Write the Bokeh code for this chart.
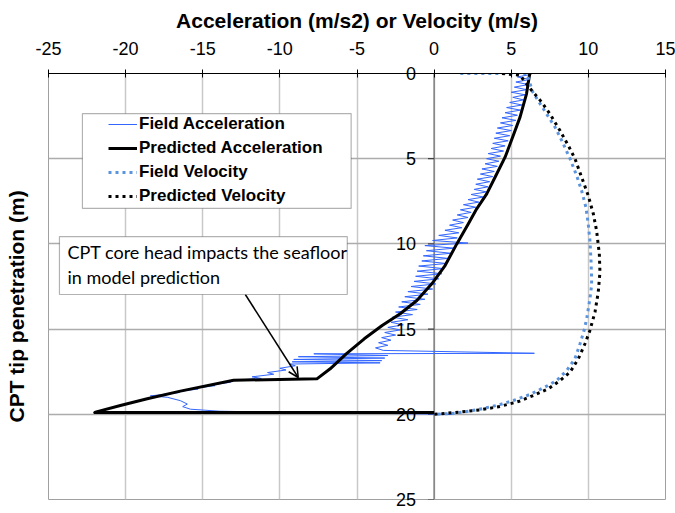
from math import pi

from bokeh.core.properties import value
from bokeh.embed import file_html
from bokeh.models import (Arrow, BoxAnnotation, FixedTicker, Grid, Label,
                          Legend, LegendItem, OpenHead, Range1d,
                          ColumnDataSource, Span)
from bokeh.plotting import figure
from bokeh.resources import INLINE

# ---- data ---------------------------------------------------------------
x_ticks = [-25, -20, -15, -10, -5, 0, 5, 10, 15]
y_ticks = [0, 5, 10, 15, 20, 25]

# measured acceleration (m/s2) against tip penetration (m)
field_acc_depth = [
    0.0, 0.0, 0.0,
    0.05, 0.20, 0.35, 0.50, 0.65, 0.80, 0.95, 1.10, 1.25, 1.40,
    1.55, 1.70, 1.85, 2.00, 2.15, 2.30, 2.45, 2.60, 2.75, 2.90,
    3.05, 3.20, 3.35, 3.50, 3.65, 3.80, 3.95, 4.10, 4.25, 4.40,
    4.55, 4.70, 4.85, 5.00, 5.15, 5.30, 5.45, 5.60, 5.75, 5.90,
    6.05, 6.20, 6.35, 6.50, 6.65, 6.80, 6.95, 7.10, 7.25, 7.40,
    7.55, 7.70, 7.85, 8.00, 8.15, 8.30, 8.45, 8.60, 8.75, 8.90,
    9.05, 9.20, 9.35, 9.50, 9.65, 9.80, 9.95, 10.10, 10.25, 10.40,
    10.55, 10.70, 10.85, 11.00, 11.15, 11.30, 11.45, 11.60, 11.75, 11.90,
    12.05, 12.20, 12.35, 12.50, 12.65, 12.80, 12.95, 13.10, 13.25, 13.40,
    13.55, 13.70, 13.85, 14.00, 14.15, 14.30, 14.45, 14.60, 14.75, 14.90,
    15.05, 15.20, 15.35, 15.50, 15.65, 15.80, 15.95, 16.10, 16.25,
    16.42, 16.45, 16.55, 16.62, 16.70, 16.78, 16.85, 16.92, 16.98, 17.05,
    17.15, 17.30, 17.40, 17.55, 17.65, 17.80, 17.90, 17.98, 18.08, 18.12,
    18.28, 18.32, 18.48, 18.52, 18.68, 18.72, 18.84, 18.92, 19.00, 19.20,
    19.40, 19.55, 19.70, 19.82, 19.88, 19.93, 20.00,
]
field_acc = [
    0.0, 11.3, 6.2,
    6.3, 5.4, 6.2, 5.3, 6.1, 5.2, 6.0, 5.0, 5.9, 5.1,
    5.8, 4.9, 5.7, 4.7, 5.6, 4.6, 5.4, 4.4, 5.3, 4.3,
    5.1, 4.1, 5.0, 4.0, 4.9, 3.9, 4.8, 3.8, 4.6, 3.7,
    4.5, 3.5, 4.3, 3.4, 4.2, 3.3, 4.1, 3.1, 3.9, 3.0,
    3.8, 2.8, 3.6, 2.7, 3.5, 2.6, 3.4, 2.4, 3.2, 2.2,
    2.9, 1.9, 2.7, 1.7, 2.4, 1.5, 2.2, 1.2, 1.9, 1.0,
    1.8, 0.7, 1.6, 0.3, 1.5, -0.1, 2.2, -0.6, 1.3, -0.5,
    1.1, -0.7, 0.9, -0.8, 0.8, -1.0, 0.6, -1.1, 0.5, -1.2,
    0.3, -1.3, 0.1, -1.5, -0.1, -1.7, -0.4, -1.9, -0.6, -2.1,
    -0.9, -2.3, -1.1, -2.5, -1.4, -2.7, -1.7, -2.8, -2.0, -3.0,
    -2.2, -3.2, -2.5, -3.4, -2.8, -3.6, -3.0, -3.8, -3.3,
    6.5, -7.8, -3.0, -8.8, -3.2, -9.1, -3.4, -9.2, -3.5, -9.4,
    -9.0, -10.0, -9.6, -10.8, -10.4, -11.8, -11.2, -12.6, -13.5, -13.2,
    -14.5, -14.2, -15.6, -15.3, -16.8, -16.5, -17.6, -18.4, -17.3, -16.45,
    -16.0, -16.3, -15.8, -13.9, -10.0, -5.0, 1.2,
]

# predicted acceleration (m/s2)
pred_acc_depth = [0.0, 1.19, 2.56, 3.64, 4.91, 6.09, 7.06, 7.94, 8.82, 10.0,
                  11.27, 12.34, 13.32, 14.1, 14.79, 15.57, 16.45, 17.33, 17.92,
                  18.0, 18.64, 19.09, 19.48, 19.87, 19.9, 19.9]
pred_acc = [6.2, 5.99, 5.57, 5.13, 4.6, 3.95, 3.41, 2.76, 2.22, 1.47,
            0.71, -0.15, -1.12, -2.2, -3.37, -4.53, -5.7, -6.74, -7.6,
            -13.0, -16.45, -18.6, -20.34, -21.96, -22.0, 0.0]

# measured velocity (m/s)
field_vel_depth = [0.0, 0.0, 1.1, 2.07, 3.15, 3.93, 5.0, 5.99, 6.87, 7.85, 8.82,
                   9.8, 10.97, 12.0, 12.44, 13.22, 14.4, 15.08, 15.86, 16.74,
                   17.43, 18.02, 18.4, 18.84, 19.19, 19.48, 19.74, 19.93, 20.0]
field_vel = [1.7, 6.0, 6.4, 7.08, 7.84, 8.27, 8.81, 9.24, 9.56, 9.84, 9.99,
             10.1, 10.17, 10.21, 10.21, 10.1, 9.89, 9.72, 9.46, 9.13,
             8.6, 7.94, 7.19, 6.2, 5.14, 4.06, 2.76, 1.47, 0.17]

# predicted velocity (m/s)
pred_vel_depth = [0.0, 0.1, 0.5, 1.0, 1.68, 2.37, 3.35, 4.23, 5.0, 6.08, 7.16,
                  8.23, 9.21, 10.58, 11.66, 12.83, 14.0, 15.08, 15.86, 16.74,
                  17.53, 18.02, 18.5, 18.9, 19.25, 19.54, 19.74, 19.87, 19.97, 20.0]
pred_vel = [4.4, 5.57, 5.9, 6.33, 6.97, 7.51, 8.16, 8.7, 9.13, 9.56, 9.99,
            10.32, 10.53, 10.71, 10.75, 10.64, 10.43, 10.1, 9.78, 9.35,
            8.81, 8.16, 7.4, 6.43, 5.46, 4.27, 2.98, 1.69, 0.4, 0.0]

# ---- figure -------------------------------------------------------------
FONT = "Liberation Sans"

p = figure(width=675, height=513,
           x_range=Range1d(-25, 15), y_range=Range1d(25, 0),
           x_axis_location="above", y_axis_location=None,
           output_backend="svg", toolbar_location=None,
           min_border_left=48, min_border_right=10,
           min_border_top=73, min_border_bottom=14)
p.background_fill_color = "white"
p.border_fill_color = "white"
p.outline_line_color = "#a0a0a0"
p.outline_line_width = 1

for g in p.grid:
    g.visible = False

vgrid = Grid(dimension=0, ticker=FixedTicker(ticks=x_ticks[1:-1]),
             grid_line_color="#c8c8c8", grid_line_width=1.5)
hgrid = Grid(dimension=1, ticker=FixedTicker(ticks=y_ticks[1:-1]),
             grid_line_color="#acacac", grid_line_width=1.5)
p.add_layout(vgrid)
p.add_layout(hgrid)

xa = p.xaxis[0]
xa.ticker = FixedTicker(ticks=x_ticks)
xa.major_label_overrides = {t: str(t) for t in x_ticks}
xa.minor_tick_line_color = None
xa.major_tick_in = 4
xa.major_tick_out = 4
xa.major_tick_line_color = "black"
xa.axis_line_color = "black"
xa.axis_line_width = 1.2
xa.major_label_text_font = FONT
xa.major_label_text_font_size = "18px"
xa.major_label_text_color = "black"
xa.major_label_standoff = 15
xa.axis_label = "Acceleration (m/s2) or Velocity (m/s)"
xa.axis_label_text_font = FONT
xa.axis_label_text_font_size = "21px"
xa.axis_label_text_font_style = "bold"
xa.axis_label_text_color = "black"
xa.axis_label_standoff = 7

# vertical axis drawn through x = 0
p.add_layout(Span(location=0, dimension="height", line_color="#7f7f7f",
                  line_width=1.5, level="underlay"))
tick_src = ColumnDataSource(dict(y=y_ticks, x=[0] * len(y_ticks),
                                 x0=[-0.4] * len(y_ticks),
                                 lab=[str(t) for t in y_ticks]))
p.segment(x0="x0", y0="y", x1="x", y1="y", source=tick_src,
          line_color="#404040", line_width=1.2)
p.text(x="x", y="y", text="lab", source=tick_src, x_offset=-18,
       text_align="right", text_baseline="middle",
       text_font=value(FONT), text_font_size="18px", text_color="black",
       level="overlay")

p.text(x=[-27.1], y=[13.67], text=["CPT tip penetration (m)"],
       angle=pi / 2, text_align="center", text_baseline="middle",
       text_font=value(FONT), text_font_size="21px",
       text_font_style="bold", text_color="black", level="overlay")

# ---- series -------------------------------------------------------------
r_fa = p.line(field_acc, field_acc_depth, line_color="#3366ff", line_width=1)
r_pa = p.line(pred_acc, pred_acc_depth, line_color="black", line_width=3,
              line_join="round")
r_fv = p.line(field_vel, field_vel_depth, line_color="#5b93dd", line_width=3,
              line_dash="3 4")
r_pv = p.line(pred_vel, pred_vel_depth, line_color="black", line_width=3,
              line_dash="3 4")

# ---- legend -------------------------------------------------------------
p.add_layout(BoxAnnotation(left=-22.8, right=-5.38, top=2.35, bottom=7.92,
                           fill_color="white", fill_alpha=1,
                           line_color="black", line_width=1.2))
legend = Legend(items=[
    LegendItem(label="Field Acceleration", renderers=[r_fa]),
    LegendItem(label="Predicted Acceleration", renderers=[r_pa]),
    LegendItem(label="Field Velocity", renderers=[r_fv]),
    LegendItem(label="Predicted Velocity", renderers=[r_pv]),
], location=(60, 293), padding=0, spacing=4, margin=0,
    glyph_width=29, glyph_height=20, label_height=20, label_standoff=2,
    label_text_font=FONT, label_text_font_size="17px",
    label_text_font_style="bold", label_text_color="black",
    border_line_alpha=0, background_fill_alpha=0)
p.add_layout(legend)

# ---- callout ------------------------------------------------------------
p.add_layout(Arrow(end=OpenHead(size=10, line_width=1.5, line_color="black"),
                   x_start=-12.24, y_start=12.97, x_end=-8.81, y_end=17.84,
                   line_color="black", line_width=1.5))
p.add_layout(BoxAnnotation(left=-24.29, right=-5.63, top=9.57, bottom=12.97,
                           fill_color="white", fill_alpha=1,
                           line_color="black", line_width=1.2))
p.add_layout(Label(x=-23.77, y=10.5, text="CPT core head impacts the seafloor",
                   text_align="left", text_baseline="middle",
                   text_font="Lato", text_font_size="18px", text_color="black"))
p.add_layout(Label(x=-23.77, y=11.97, text="in model prediction",
                   text_align="left", text_baseline="middle",
                   text_font="Lato", text_font_size="18px", text_color="black"))

open("out.html", "w").write(file_html(p, INLINE))
